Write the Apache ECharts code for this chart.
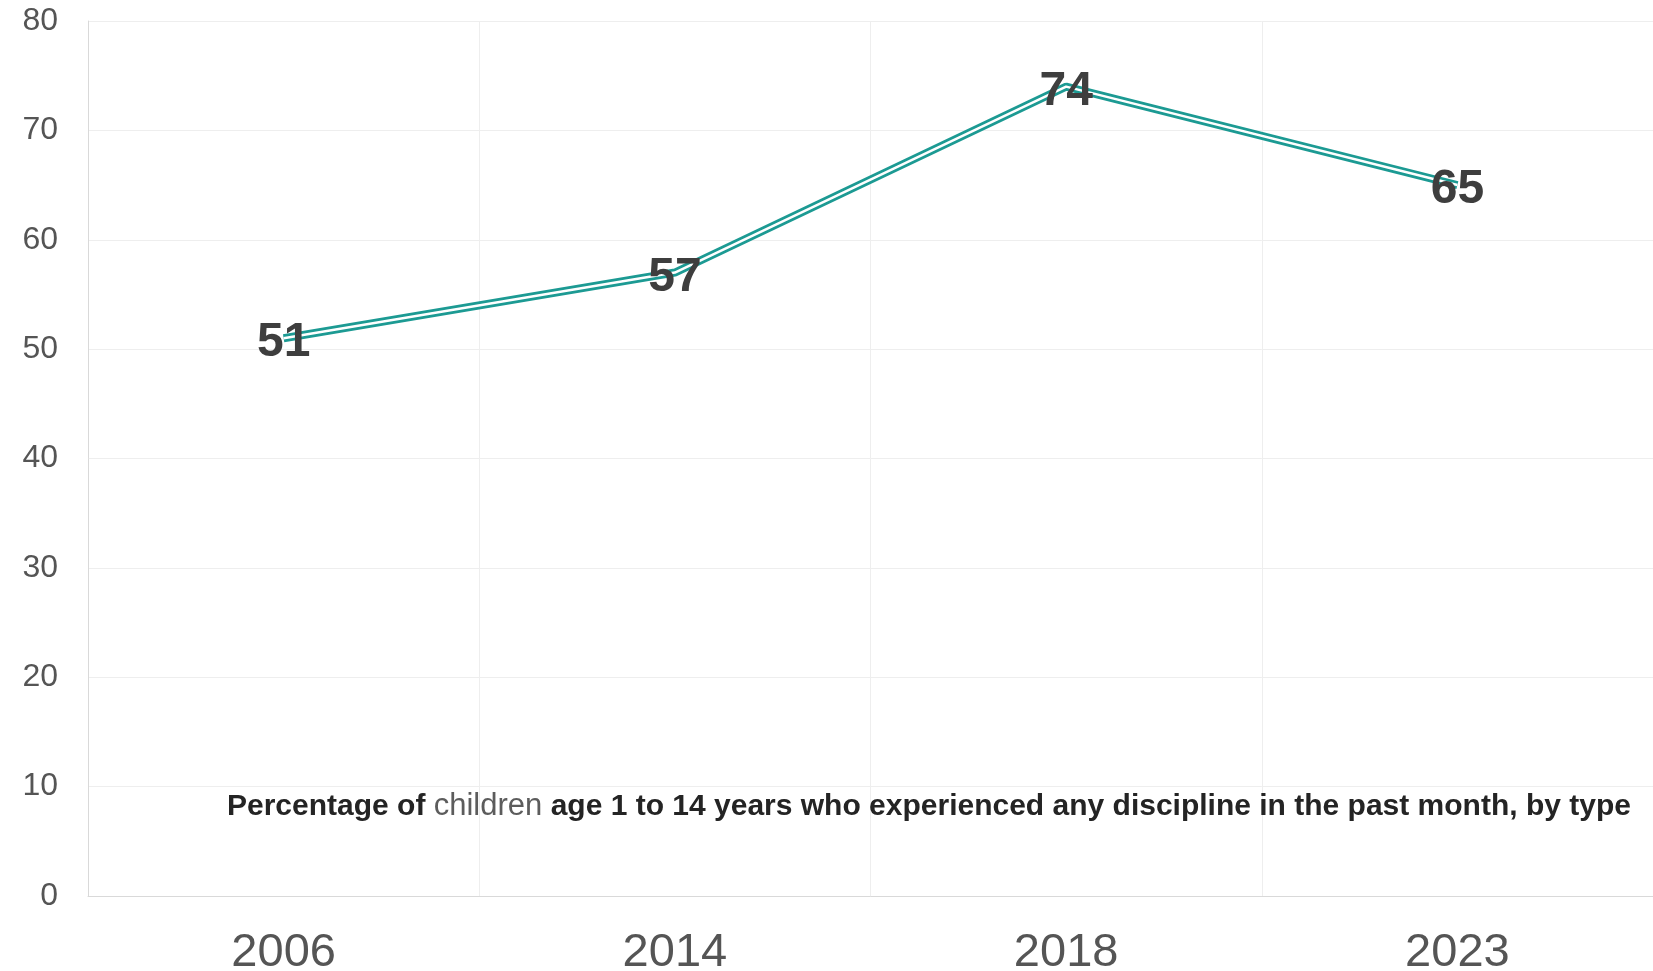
<!DOCTYPE html>
<html>
<head>
<meta charset="utf-8">
<script src="https://cdn.jsdelivr.net/npm/echarts@6/dist/echarts.min.js"></script>
<style>
  html, body { margin: 0; padding: 0; background: #fff; }
  #chart { width: 1653px; height: 971px; }
</style>
</head>
<body>
<div id="chart"></div>
<script>
// Survey years and share of children (%) experiencing any discipline
const years = ['2006', '2014', '2018', '2023'];
const anyDiscipline = [51, 57, 74, 65];
const yTicks = { min: 0, max: 80, step: 10 };

const teal = '#1c9a93';
const labelFont = 'Liberation Sans, Arial, Helvetica, sans-serif';

const chart = echarts.init(document.getElementById('chart'), null, { renderer: 'canvas' });

chart.setOption({
  backgroundColor: '#ffffff',
  animation: false,
  title: {
    left: 222,
    top: 786,
    text: '{a|Percentage of }{b|children}{a| age 1 to 14 years who experienced any discipline in the past month, by type}',
    textStyle: {
      rich: {
        a: {
          fontFamily: labelFont,
          fontWeight: 'bold',
          fontSize: 30,
          color: '#242424'
        },
        b: {
          fontFamily: labelFont,
          fontWeight: 'normal',
          fontSize: 31,
          color: '#5c5c5c'
        }
      }
    }
  },
  grid: {
    left: 88, right: 0, top: 21, bottom: 75,
    containLabel: false,
    outerBoundsMode: 'none'
  },
  xAxis: {
    type: 'category',
    data: years,
    boundaryGap: true,
    axisLine: { show: true, lineStyle: { color: '#d9d9d9', width: 1 } },
    axisTick: { show: false },
    splitLine: { show: true, lineStyle: { color: '#eeeeee', width: 1 } },
    axisLabel: {
      margin: 34,
      fontSize: 47,
      color: '#555555',
      fontFamily: labelFont
    }
  },
  yAxis: {
    type: 'value',
    min: yTicks.min,
    max: yTicks.max,
    interval: yTicks.step,
    axisLine: { show: true, lineStyle: { color: '#d9d9d9', width: 1 } },
    axisTick: { show: false },
    splitLine: { show: true, lineStyle: { color: '#eeeeee', width: 1 } },
    axisLabel: {
      margin: 30,
      fontSize: 32,
      color: '#555555',
      fontFamily: labelFont
    }
  },
  series: [
    {
      // outer teal stroke
      type: 'line',
      data: anyDiscipline,
      symbol: 'none',
      lineStyle: { color: teal, width: 8 },
      z: 2
    },
    {
      // white core giving the double-rule look
      type: 'line',
      data: anyDiscipline,
      symbol: 'none',
      lineStyle: { color: '#ffffff', width: 2.5 },
      z: 3
    },
    {
      // value labels centred on each point
      type: 'scatter',
      data: anyDiscipline,
      symbolSize: 1,
      itemStyle: { color: 'rgba(255,255,255,0)', opacity: 1 },
      z: 4,
      label: {
        show: true,
        position: 'inside',
        offset: [0, 5],
        formatter: '{c}',
        fontSize: 48,
        fontWeight: 'bold',
        color: '#3e3e3e',
        fontFamily: labelFont
      }
    }
  ]
});
</script>
</body>
</html>
